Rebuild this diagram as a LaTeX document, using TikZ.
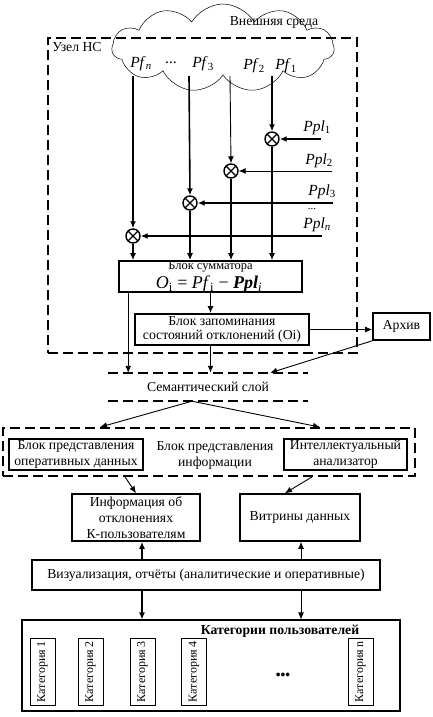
\documentclass[tikz,border=0pt]{standalone}
\usepackage{fontspec}
\setmainfont{Liberation Serif}
\usetikzlibrary{shapes.symbols, arrows.meta, positioning, calc}

\newcommand{\sigf}[1]{\textit{Pf}\textsubscript{#1}}
\newcommand{\sigpl}[1]{\textit{Ppl}\textsubscript{#1}}

\tikzset{
    basetext/.style={font=\fontsize{13.7}{16}\selectfont, align=center, inner sep=1pt},
    sigtext/.style={font=\fontsize{15.5}{16}\selectfont, inner sep=0pt},
    blockbox/.style={draw, rectangle, line width=1.6pt, basetext, inner sep=0pt},
    thinbox/.style={draw, rectangle, line width=1.1pt, basetext, inner sep=0pt},
    dashbox/.style={draw, rectangle, line width=1.8pt, dash pattern=on 10pt off 5pt},
    dashline/.style={line width=1.8pt, dash pattern=on 10pt off 5pt},
    catbox/.style={draw, rectangle, line width=1pt, rotate=90, minimum width=67pt, minimum height=25pt, inner sep=0pt, font=\fontsize{12}{14}\selectfont},
    envcloud/.style={draw, cloud, cloud puffs=11, cloud puff arc=120, cloud ignores aspect, minimum width=222pt, minimum height=88pt, line width=0.5pt, inner sep=0pt},
    mixer/.style={draw, circle, line width=1.4pt, minimum size=14pt, inner sep=0pt,
        path picture={\draw[line width=1.2pt] (path picture bounding box.north west) -- (path picture bounding box.south east)
                                               (path picture bounding box.north east) -- (path picture bounding box.south west);}},
    flowarrow/.style={-{Latex[length=7pt, width=6pt]}, line width=1.6pt},
    thinarrow/.style={-{Latex[length=7pt, width=6pt]}, line width=0.9pt},
}

\begin{document}
\begin{tikzpicture}[x=1pt, y=-1pt]
\useasboundingbox (0,0) rectangle (432,717);

% External environment
\node[envcloud] (env) at (223,48) {};
\node[basetext] (envtext) at (274,22) {Внешняя среда};

% Network node frame
\node[dashbox, minimum width=309pt, minimum height=315pt] (uzel) at (202.5,195.5) {};
\node[basetext, anchor=north west] (uzeltext) at ([xshift=4pt, yshift=-4pt]uzel.north west) {Узел НС};

% Actual signals
\node[sigtext] (pfn) at (141,64) {\sigf{\textit{n}}};
\node[sigtext] (pfdots) at (171,63) {...};
\node[sigtext] (pf3) at (203,64) {\sigf{3}};
\node[sigtext] (pf2) at (254,66) {\sigf{2}};
\node[sigtext] (pf1) at (286,66) {\sigf{1}};
\coordinate (srcn) at (133,76);
\coordinate (src3) at (189,76);
\coordinate (src2) at (230,76);
\coordinate (src1) at (272,76);

% Mixers
\node[mixer] (m1) at (272,139) {};
\node[mixer] (m2) at (231,171) {};
\node[mixer] (m3) at (190,203) {};
\node[mixer] (m4) at (133,236) {};

% Planned signals
\node[sigtext] (ppl1) at (317,128) {\sigpl{1}};
\node[sigtext] (ppl2) at (319,161) {\sigpl{2}};
\node[sigtext] (ppl3) at (322,192) {\sigpl{3}};
\node[sigtext, font=\fontsize{11}{12}\selectfont] (ppldots) at (312,209) {...};
\node[sigtext] (ppln) at (317,225) {\sigpl{\textit{n}}};
\coordinate (in1) at (321,139);
\coordinate (in2) at (332,171);
\coordinate (in3) at (333,203);
\coordinate (in4) at (322,236);

% Summator and memory
\node[blockbox, minimum width=183pt, minimum height=31pt] (summ) at (210.5,276.5) {};
\node[basetext, font=\fontsize{12.5}{14}\selectfont] (summtext) at (210.5,267) {Блок сумматора};
\node[basetext, font=\fontsize{18}{18}\selectfont] (formula) at (209,284) {\textit{O}\textsubscript{i} = \textit{Pf}\textsubscript{i} − \textit{\textbf{Ppl}}\textsubscript{\textit{i}}};
\node[blockbox, minimum width=174pt, minimum height=31pt] (mem) at (222,329.5) {Блок запоминания\\[-2pt]состояний отклонений (Oi)};
\node[blockbox, minimum width=57pt, minimum height=27pt] (arch) at (401.5,326.5) {Архив};

% Semantic layer
\node[basetext, minimum width=200pt, minimum height=28pt] (sem) at (208,387) {Семантический слой};
\draw[dashline] (sem.north west) -- (sem.north east);
\draw[dashline] (sem.south west) -- (sem.south east);

% Information presentation
\node[dashbox, minimum width=412pt, minimum height=48pt] (info) at (209,452) {};
\node[basetext] (infotext) at (215,455) {Блок представления\\информации};
\node[blockbox, minimum width=134pt, minimum height=31pt] (opd) at (76,454.5) {Блок представления\\оперативных данных};
\node[blockbox, minimum width=123pt, minimum height=31pt] (ana) at (345.5,454.5) {Интеллектуальный\\анализатор};

% Outputs
\node[blockbox, minimum width=128pt, minimum height=47pt] (devinfo) at (136,517.5) {Информация об\\отклонениях\\К-пользователям};
\node[blockbox, minimum width=120pt, minimum height=47pt] (vitr) at (300,517.5) {Витрины данных};
\node[thinbox, minimum width=348pt, minimum height=30pt] (viz) at (206,575) {Визуализация, отчёты (аналитические и оперативные)};

% User categories
\node[thinbox, minimum width=378pt, minimum height=91pt] (cats) at (211,665.5) {};
\node[basetext, font=\fontsize{13.7}{16}\selectfont\bfseries] (catstext) at (280,631) {Категории пользователей};
\node[catbox] (cat1) at (42.5,671.5) {Категория 1};
\node[catbox] (cat2) at (90.5,671.5) {Категория 2};
\node[catbox] (cat3) at (142.5,671.5) {Категория 3};
\node[catbox] (cat4) at (194,671.5) {Категория 4};
\node[catbox] (catn) at (360.5,671.5) {Категория n};
\node[basetext, font=\fontsize{13.7}{16}\selectfont\bfseries] (catdots) at (283,676) {•••};

% Arrows
\draw[flowarrow] (srcn) -- (m4.north);
\draw[flowarrow] (src3) -- (m3.north);
\draw[thinarrow] (src2) -- (m2.north);
\draw[flowarrow] (src1) -- (m1.north);
\draw[flowarrow] (in1) -- (m1.east);
\draw[thinarrow] (in2) -- (m2.east);
\draw[flowarrow] (in3) -- (m3.east);
\draw[flowarrow] (in4) -- (m4.east);
\draw[flowarrow] (m1.south) -- (m1.south |- summ.north);
\draw[flowarrow] (m2.south) -- (m2.south |- summ.north);
\draw[flowarrow] (m3.south) -- (m3.south |- summ.north);
\draw[flowarrow] (m4.south) -- (m4.south |- summ.north);
\draw[flowarrow] (summ.south) -- (summ.south |- mem.north);
\draw[thinarrow] ([xshift=10pt]summ.south west) -- ([xshift=10pt]summ.south west |- sem.north);
\draw[flowarrow] (summ.south |- mem.south) -- (summ.south |- sem.north);
\draw[thinarrow] (mem.east) -- (mem.east -| arch.west);
\draw[thinarrow] (arch.south west) -- ([xshift=-38pt]sem.north east);
\draw[thinarrow] ([xshift=-16pt]sem.south) -- ([xshift=-109pt]info.north);
\draw[thinarrow] ([xshift=-16pt]sem.south) -- ([xshift=111pt]info.north);
\draw[thinarrow] ([xshift=-84pt]info.south) -- (devinfo.north);
\draw[thinarrow] ([xshift=103pt]info.south) -- ([xshift=-15pt]vitr.north);
\draw[flowarrow] ([xshift=6pt]devinfo.south |- viz.north) -- ([xshift=6pt]devinfo.south);
\draw[thinarrow] ([xshift=1pt]vitr.south |- viz.north) -- ([xshift=1pt]vitr.south);
\draw[flowarrow] ([xshift=6pt]devinfo.south |- viz.south) -- ([xshift=6pt]devinfo.south |- cats.north);
\draw[thinarrow] ([xshift=1pt]vitr.south |- viz.south) -- ([xshift=1pt]vitr.south |- cats.north);
\end{tikzpicture}
\end{document}
